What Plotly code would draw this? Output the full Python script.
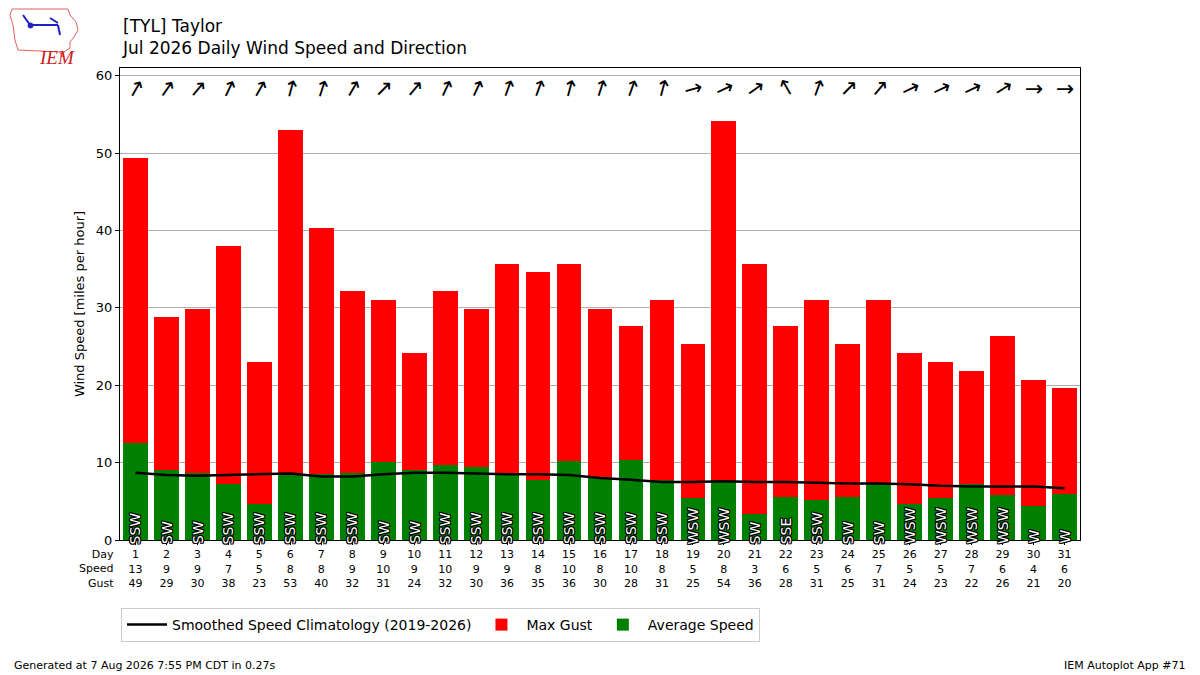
import plotly.graph_objects as go

# daily values (mph)
days = list(range(1, 32))
avg_speed = [12.6, 9.1, 8.6, 7.3, 4.7, 8.5, 8.5, 8.6, 10.1, 9.1,
             9.7, 9.4, 8.6, 7.8, 10.2, 8.1, 10.4, 7.8, 5.4, 7.8,
             3.4, 5.6, 5.2, 5.6, 7.4, 4.7, 5.4, 7.2, 5.8, 4.4, 6.0]
max_gust = [49.4, 28.8, 29.9, 38.0, 23.0, 53.0, 40.3, 32.2, 31.0, 24.2,
            32.2, 29.9, 35.7, 34.6, 35.7, 29.9, 27.6, 31.0, 25.3, 54.2,
            35.7, 27.6, 31.0, 25.3, 31.0, 24.2, 23.0, 21.9, 26.4, 20.7, 19.6]
clim_speed = [8.7, 8.4, 8.3, 8.4, 8.5, 8.6, 8.2, 8.2, 8.5, 8.7,
              8.7, 8.6, 8.5, 8.5, 8.4, 8.0, 7.8, 7.5, 7.5, 7.6,
              7.5, 7.5, 7.4, 7.3, 7.3, 7.2, 7.0, 6.9, 6.9, 6.9, 6.7]
# average wind direction (degrees, blowing from)
wind_dir = [210, 215, 220, 205, 210, 195, 198, 210, 225, 220,
            205, 205, 200, 200, 195, 198, 200, 195, 255, 245,
            235, 150, 200, 225, 220, 245, 245, 245, 238, 270, 270]

compass = ["N", "NNE", "NE", "ENE", "E", "ESE", "SE", "SSE",
           "S", "SSW", "SW", "WSW", "W", "WNW", "NW", "NNW"]
dir_text = [compass[int((d + 11.25) % 360 // 22.5)] for d in wind_dir]

tick_text = ["%d<br>%.0f<br>%.0f" % (d, s, g) for d, s, g in zip(days, avg_speed, max_gust)]

font = "DejaVu Sans"

fig = go.Figure()
fig.add_trace(go.Bar(x=days, y=max_gust, width=0.8, marker_color="#ff0000",
                     marker_line_width=0, name="Max Gust", legendrank=2))
fig.add_trace(go.Bar(x=days, y=avg_speed, width=0.8, marker_color="#008000",
                     marker_line_width=0, name="Average Speed", legendrank=3))
fig.add_trace(go.Scatter(x=days, y=clim_speed, mode="lines",
                         line=dict(color="black", width=2.5),
                         name="Smoothed Speed Climatology (2019-2026)", legendrank=1))

# direction labels inside bars + arrows along the top
outline = ("1px 1px 0 black, -1px -1px 0 black, 1px -1px 0 black, -1px 1px 0 black, "
           "1px 0 0 black, -1px 0 0 black, 0 1px 0 black, 0 -1px 0 black")
for d, txt, wd in zip(days, dir_text, wind_dir):
    fig.add_annotation(x=d, y=0, text=txt, showarrow=False, textangle=-90,
                       yanchor="bottom", yshift=-6,
                       font=dict(family=font, size=14, color="white", shadow=outline))
    fig.add_annotation(x=d, y=58.4, text="→", showarrow=False,
                       textangle=(wd + 180) - 90,
                       font=dict(family=font, size=22, color="black"))

fig.add_annotation(xref="paper", yref="paper", x=0, y=0, xanchor="right", yanchor="top",
                   xshift=-4, yshift=-6, align="right", showarrow=False,
                   text="Day<br>Speed<br>Gust", font=dict(family=font, size=11, color="black"))

# title & footer
fig.add_annotation(xref="paper", yref="paper", x=0, y=1, xanchor="left", yanchor="bottom",
                   yshift=8, align="left", showarrow=False,
                   text="[TYL] Taylor<br>Jul 2026 Daily Wind Speed and Direction",
                   font=dict(family=font, size=17, color="black"))
fig.add_annotation(xref="paper", yref="paper", x=-0.1125, y=-0.265, xanchor="left", yanchor="middle",
                   showarrow=False, text="Generated at 7 Aug 2026 7:55 PM CDT in 0.27s",
                   font=dict(family=font, size=11, color="black"))
fig.add_annotation(xref="paper", yref="paper", x=1.1125, y=-0.265, xanchor="right", yanchor="middle",
                   showarrow=False, text="IEM Autoplot App #71",
                   font=dict(family=font, size=11, color="black"))

# rough IEM logo
def px(x, y):
    return (x - 120) / 960, (540 - y) / 472

iowa = [(12, 9), (68, 9), (70, 15), (76, 22), (78, 30), (74, 37), (70, 42), (70, 48),
        (64, 52), (62, 57), (60, 52), (18, 50), (15, 40), (13, 25), (10, 15)]
path = "M " + " L ".join("%.4f,%.4f" % px(x, y) for x, y in iowa) + " Z"
fig.add_shape(type="path", xref="paper", yref="paper", path=path,
              line=dict(color="#e06060", width=1))
for (x0, y0, x1, y1) in [(30, 25, 58, 25), (50, 18, 58, 23), (58, 25, 60, 35), (23, 15, 30, 25)]:
    a, b = px(x0, y0)
    c, e = px(x1, y1)
    fig.add_shape(type="line", xref="paper", yref="paper", x0=a, y0=b, x1=c, y1=e,
                  line=dict(color="#2020c0", width=2))
a, b = px(28, 23)
c, e = px(33, 28)
fig.add_shape(type="circle", xref="paper", yref="paper", x0=a, y0=b, x1=c, y1=e,
              fillcolor="#2020c0", line=dict(color="#2020c0", width=1))
lx, ly = px(37, 45)
fig.add_annotation(xref="paper", yref="paper", x=lx, y=ly, text="<i>IEM</i>", showarrow=False,
                   font=dict(family="Liberation Serif", size=19, color="#d02020"))

fig.update_layout(
    width=1200, height=675,
    margin=dict(l=120, r=120, t=68, b=135),
    paper_bgcolor="white", plot_bgcolor="white",
    barmode="overlay", bargap=0,
    font=dict(family=font, size=13, color="black"),
    showlegend=True,
    legend=dict(orientation="h", xref="container", yref="container",
                x=121 / 1200, y=1 - 608 / 675, xanchor="left", yanchor="top",
                bordercolor="#cccccc", borderwidth=1, font=dict(size=14),
                traceorder="normal", itemwidth=40),
)
fig.update_xaxes(range=[0.5, 31.5], tickvals=days, ticktext=tick_text,
                 tickfont=dict(size=11), ticks="outside", ticklen=4, tickcolor="black",
                 showgrid=False, showline=True, linecolor="black", linewidth=1, mirror=True,
                 zeroline=False)
fig.update_yaxes(range=[0, 61], dtick=10, ticks="outside", ticklen=4, tickcolor="black",
                 showgrid=True, gridcolor="#b0b0b0", gridwidth=1,
                 showline=True, linecolor="black", linewidth=1, mirror=True, zeroline=False,
                 title=dict(text="Wind Speed [miles per hour]", font=dict(size=13), standoff=8))

fig.write_html("out.html", config={"displayModeBar": False},
               post_script="document.body.style.margin='0';")
